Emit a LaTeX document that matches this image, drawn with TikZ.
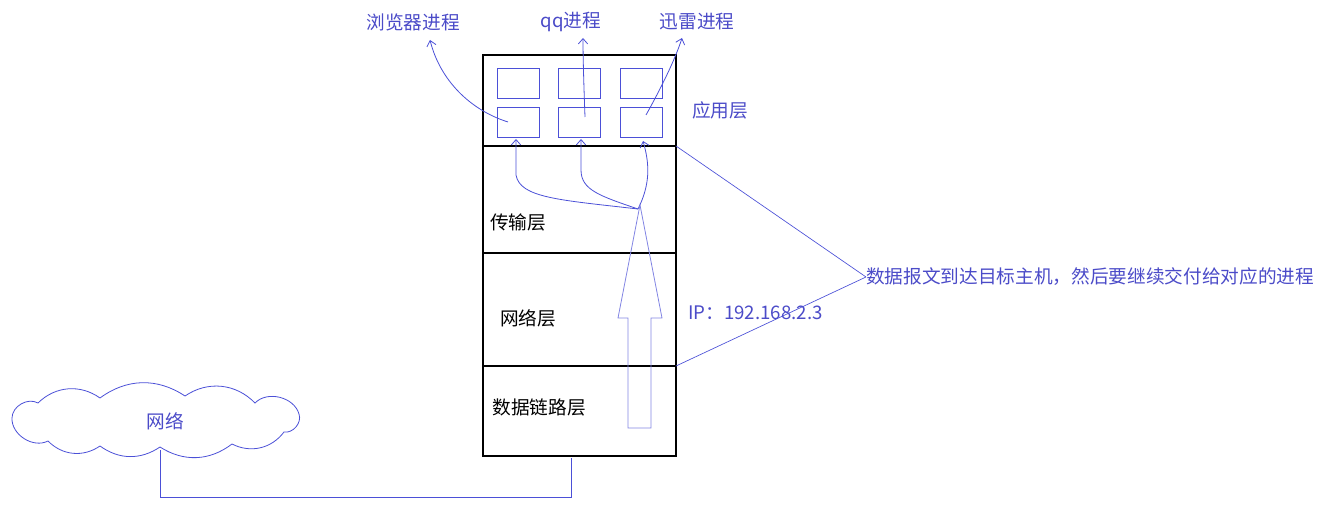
\documentclass[tikz,border=0pt]{standalone}
\usepackage{fontspec}
\setmainfont{Noto Sans CJK SC}
\usetikzlibrary{arrows.meta}
\definecolor{lblue}{RGB}{75,80,215}
\definecolor{tblue}{RGB}{75,75,200}
\tikzset{
  blk/.style={draw=black,line width=0.8pt},
  pbox/.style={draw=lblue,line width=0.65pt,minimum width=31.5pt,minimum height=22.5pt,inner sep=0pt},
  lbl/.style={text=tblue,font=\fontsize{14}{16}\selectfont,inner sep=0pt},
  blbl/.style={text=black,font=\fontsize{14}{16}\selectfont,inner sep=0pt},
  conn/.style={draw=lblue,line width=0.6pt},
  carr/.style={conn,-{Straight Barb[length=4pt,width=7pt]}},
}
\begin{document}
\begin{tikzpicture}[x=0.75pt,y=-0.75pt]
\useasboundingbox (0,0) rectangle (1331,509);
% main stack
\draw[blk] (483,55) rectangle (676,456);
\draw[blk] (483,146) -- (676,146);
\draw[blk] (483,253) -- (676,253);
\draw[blk] (483,366) -- (676,366);
\coordinate (r1) at (676,146);
\coordinate (r2) at (676,366);
\coordinate (bot) at (571,458);
% process boxes
\node[pbox] (a1) at (518,83) {};
\node[pbox] (a2) at (579,83) {};
\node[pbox] (a3) at (641,83) {};
\node[pbox] (b1) at (518,122) {};
\node[pbox] (b2) at (579,122) {};
\node[pbox] (b3) at (641,122) {};
% labels
\node[lbl] (browser) at (413,22) {浏览器进程};
\node[lbl] (qq) at (571,22) {qq进程};
\node[lbl] (xl) at (697,22) {迅雷进程};
\node[lbl] (app) at (720,110) {应用层};
\node[blbl] (tr) at (518,222) {传输层};
\node[blbl] (net) at (528,318) {网络层};
\node[blbl] (dl) at (539,407) {数据链路层};
\node[lbl,anchor=west] (ip) at (688,313) {IP：192.168.2.3};
\node[lbl,anchor=west] (msg) at (866,277) {数据报文到达目标主机，然后要继续交付给对应的进程};
% arrows from app boxes to process labels
\coordinate (s1) at (508,122);
\coordinate (s2) at (585,117);
\coordinate (s3) at (646,115);
\draw[carr] (s1) .. controls (470,110) and (440,80) .. (430,40);
\draw[carr] (s2) .. controls (584,90) and (583,60) .. (583,38);
\draw[carr] (s3) .. controls (660,90) and (675,60) .. (682,38);
% arrows from transport fork
\coordinate (f) at (638,209);
\draw[carr] (f) .. controls (560,200) and (520,198) .. (516,175) -- (516,139);
\draw[carr] (f) .. controls (600,196) and (581,190) .. (581,170) -- (581,139);
\draw[carr] (f) .. controls (650,185) and (650,165) .. (643,141);
% big hollow arrow
\draw[conn,draw=lblue!70] (628,428) -- (628,318) -- (618,318) -- (640,205) -- (662,318) -- (651,318) -- (651,428) -- cycle;
% annotation lines
\draw[conn,line width=0.5pt] (r1) -- (msg.west);
\draw[conn,line width=0.5pt] (r2) -- (msg.west);
% cloud
\draw[conn] (12,418) to[bend left=60] (38,403) to[bend left=40] (100,398)
  to[bend left=35] (185,396) to[bend left=40] (255,403) to[bend left=60] (299,414)
  to[bend left=60] (284,432) to[bend left=40] (232,444) to[bend left=35] (160,447)
  to[bend left=35] (100,446) to[bend left=40] (48,441) to[bend left=60] (12,418);
\node[lbl] (wl) at (165,421) {网络};
\coordinate (cb) at (160,450);
\draw[conn] (cb) -- (160,497) -- (571,497) -- (bot);
\end{tikzpicture}
\end{document}
